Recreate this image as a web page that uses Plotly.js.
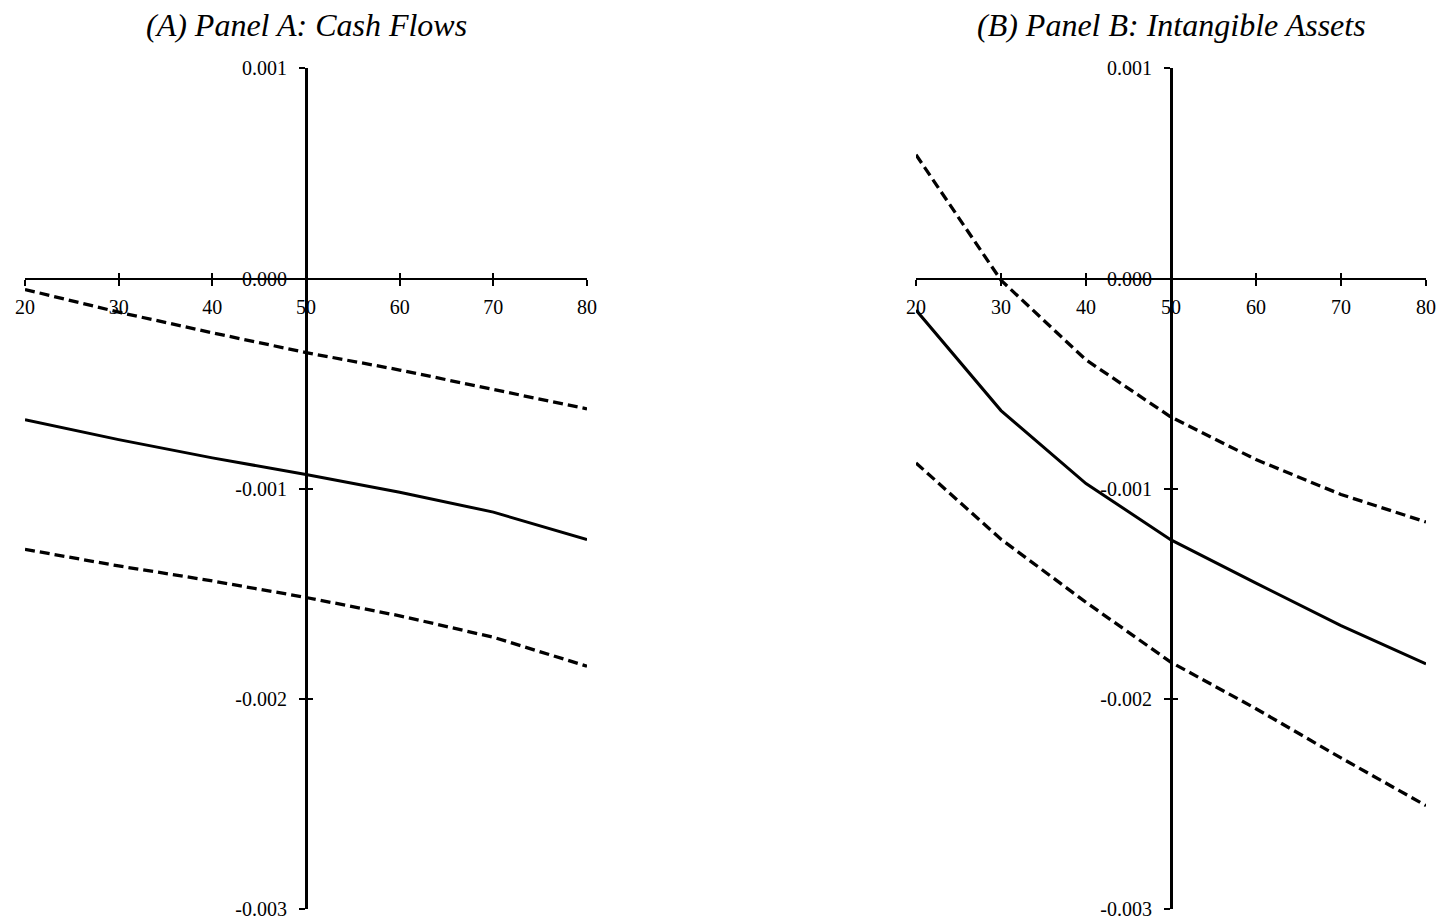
<!DOCTYPE html>
<html>
<head>
<meta charset="utf-8">
<script src="https://cdn.plot.ly/plotly-3.0.1.min.js"></script>
<style>
  html, body { margin: 0; padding: 0; background: #ffffff; }
  #chart { width: 1439px; height: 922px; }
</style>
</head>
<body>
<div id="chart"></div>
<script>
// ---------- data ----------
const ages = [20, 30, 40, 50, 60, 70, 80];

// Panel A: Cash Flows
const cashEstimate = [-0.000672, -0.000766, -0.000853, -0.000932, -0.001016, -0.001111, -0.001242];
const cashUpper    = [-0.000052, -0.000160, -0.000258, -0.000352, -0.000435, -0.000526, -0.000620];
const cashLower    = [-0.001288, -0.001367, -0.001438, -0.001517, -0.001604, -0.001706, -0.001844];

// Panel B: Intangible Assets
const intangEstimate = [-0.000150, -0.000628, -0.000975, -0.001243, -0.001449, -0.001651, -0.001833];
const intangUpper    = [0.000589, -0.000008, -0.000387, -0.000659, -0.000861, -0.001027, -0.001158];
const intangLower    = [-0.000877, -0.001240, -0.001540, -0.001825, -0.002046, -0.002280, -0.002507];

const panelTitles = ["(A) Panel A: Cash Flows", "(B) Panel B: Intangible Assets"];
const xTickVals = [20, 30, 40, 50, 60, 70, 80];
const xTickText = ["20", "30", "40", "50", "60", "70", "80"];
const yTickVals = [0.001, 0, -0.001, -0.002, -0.003];
const yTickText = ["0.001", "0.000", "-0.001", "-0.002", "-0.003"];

// ---------- layout helpers ----------
const W = 1439, H = 922;
const FONT = "Liberation Serif, Times New Roman, serif";
const xRange = [20, 80];
const yRange = [-0.003, 0.001];
const domA = [25 / W, 587 / W];
const domB = [916 / W, 1426 / W];
const domY = [1 - 909.3 / H, 1 - 68.3 / H];

const xAxisPos = domY[0] + (0 - yRange[0]) / (yRange[1] - yRange[0]) * (domY[1] - domY[0]);
const yPos = d => d[0] + (50 - xRange[0]) / (xRange[1] - xRange[0]) * (d[1] - d[0]);

function xMain(dom) {
  return {
    domain: dom, range: xRange, anchor: 'free', position: xAxisPos,
    showline: true, linecolor: '#000', linewidth: 2.5,
    ticks: 'outside', ticklen: 6, tickwidth: 2, tickcolor: '#000',
    tickmode: 'array', tickvals: xTickVals, ticktext: xTickText,
    tickfont: { family: FONT, size: 20, color: '#000' },
    ticklabelstandoff: 4,
    showgrid: false, zeroline: false, fixedrange: true
  };
}
function yMain(dom) {
  return {
    domain: domY, range: yRange, anchor: 'free', position: yPos(dom),
    showline: true, linecolor: '#000', linewidth: 2.5,
    ticks: 'outside', ticklen: 6, tickwidth: 2, tickcolor: '#000',
    tickmode: 'array', tickvals: yTickVals, ticktext: yTickText,
    tickfont: { family: FONT, size: 20, color: '#000' },
    ticklabelstandoff: 8,
    showgrid: false, zeroline: false, fixedrange: true
  };
}
function xInside(dom, over) {
  return {
    domain: dom, range: xRange, anchor: 'free', position: xAxisPos, overlaying: over,
    showline: false, ticks: 'inside', ticklen: 6, tickwidth: 2, tickcolor: '#000',
    tickmode: 'array', tickvals: xTickVals, showticklabels: false,
    showgrid: false, zeroline: false, fixedrange: true
  };
}
function yInside(dom, over) {
  return {
    domain: domY, range: yRange, anchor: 'free', position: yPos(dom), overlaying: over,
    showline: false, ticks: 'inside', ticklen: 6, tickwidth: 2, tickcolor: '#000',
    tickmode: 'array', tickvals: yTickVals, showticklabels: false,
    showgrid: false, zeroline: false, fixedrange: true
  };
}

function line(y, xa, ya, dashed) {
  return {
    type: 'scatter', mode: 'lines', x: ages, y: y, xaxis: xa, yaxis: ya,
    line: { color: '#000', width: dashed ? 3.3 : 3, dash: dashed ? '10px,5px' : 'solid' },
    showlegend: false, hoverinfo: 'skip'
  };
}

const traces = [
  line(cashUpper, 'x', 'y', true),
  line(cashEstimate, 'x', 'y', false),
  line(cashLower, 'x', 'y', true),
  line(intangUpper, 'x2', 'y2', true),
  line(intangEstimate, 'x2', 'y2', false),
  line(intangLower, 'x2', 'y2', true),
  { type: 'scatter', mode: 'lines', x: [], y: [], xaxis: 'x3', yaxis: 'y3', showlegend: false, hoverinfo: 'skip' },
  { type: 'scatter', mode: 'lines', x: [], y: [], xaxis: 'x4', yaxis: 'y4', showlegend: false, hoverinfo: 'skip' }
];

const layout = {
  width: W, height: H,
  margin: { l: 0, r: 0, t: 0, b: 0, pad: 0 },
  paper_bgcolor: '#ffffff', plot_bgcolor: 'rgba(0,0,0,0)',
  showlegend: false,
  xaxis: xMain(domA), yaxis: yMain(domA),
  xaxis2: xMain(domB), yaxis2: yMain(domB),
  xaxis3: xInside(domA, 'x'), yaxis3: yInside(domA, 'y'),
  xaxis4: xInside(domB, 'x2'), yaxis4: yInside(domB, 'y2'),
  annotations: [
    { text: '<i>' + panelTitles[0] + '</i>', xref: 'paper', yref: 'paper',
      x: yPos(domA), y: 1 - 25 / H, xanchor: 'center', yanchor: 'middle',
      showarrow: false, font: { family: FONT, size: 32, color: '#000' } },
    { text: '<i>' + panelTitles[1] + '</i>', xref: 'paper', yref: 'paper',
      x: yPos(domB), y: 1 - 25 / H, xanchor: 'center', yanchor: 'middle',
      showarrow: false, font: { family: FONT, size: 32, color: '#000' } }
  ]
};

Plotly.newPlot('chart', traces, layout, { staticPlot: true, displayModeBar: false });
</script>
</body>
</html>
